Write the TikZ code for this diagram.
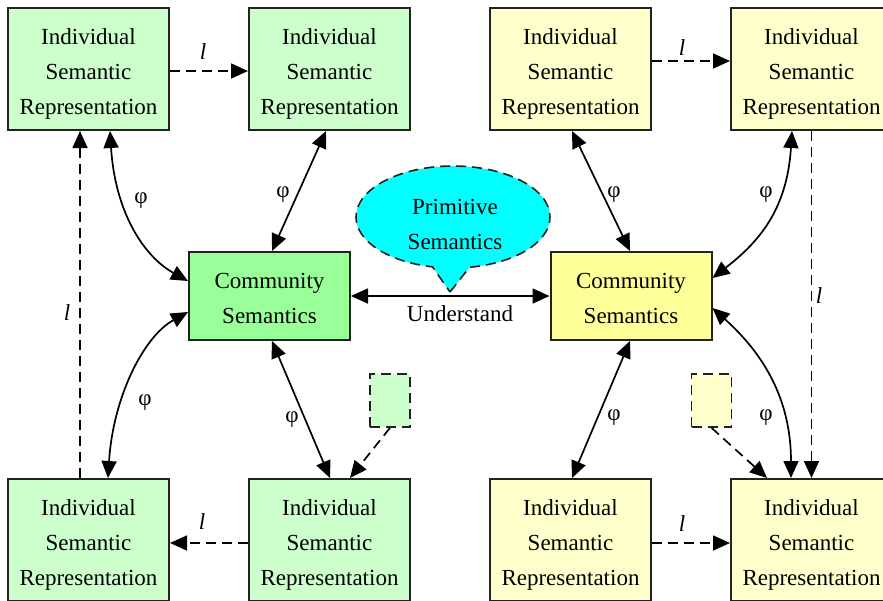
\documentclass[tikz,border=0pt]{standalone}
\usepackage{fontspec}
\setmainfont{Liberation Serif}
\newfontfamily\serifx{Liberation Serif}
\usetikzlibrary{arrows.meta,shapes.callouts,calc}
\definecolor{lgreen}{HTML}{CCFFCC}
\definecolor{cgreen}{HTML}{99FF99}
\definecolor{lyellow}{HTML}{FFFFCC}
\definecolor{cyellow}{HTML}{FFFF99}
\definecolor{cyanx}{HTML}{00FFFF}
\definecolor{bord}{HTML}{222222}
\begin{document}
\begin{tikzpicture}[x=1pt,y=-1pt,
  every node/.style={font=\serifx\fontsize{23}{35}\selectfont},
  box/.style={draw=bord, line width=2pt, minimum width=161pt, minimum height=122pt, inner sep=0pt, align=center, text width=161pt, text height=25pt},
  comm/.style={box, minimum height=88pt, text height=21pt},
  dsh/.style={dash pattern=on 10pt off 6pt},
  smallbox/.style={draw=bord, dsh, line width=1.6pt, minimum width=40pt, minimum height=53pt, inner sep=0pt},
  tip/.tip={Triangle[length=17pt,width=15pt]},
  conn/.style={line width=1.7pt, -tip},
  biconn/.style={line width=1.7pt, tip-tip},
  lab/.style={inner sep=0pt},
]
\clip (0,0) rectangle (883,600);
% green boxes
\node[box, fill=lgreen] (gtl) at (88.5,69) {Individual\\Semantic\\Representation};
\node[box, fill=lgreen] (gtr) at (329.5,69) {Individual\\Semantic\\Representation};
\node[box, fill=lgreen] (gbl) at (88.5,540) {Individual\\Semantic\\Representation};
\node[box, fill=lgreen] (gbr) at (329.5,540) {Individual\\Semantic\\Representation};
\node[comm, fill=cgreen] (gc) at (269.5,296) {Community\\Semantics};
\node[smallbox, fill=lgreen] (gsm) at (390,400.5) {};
% yellow boxes
\node[box, fill=lyellow] (ytl) at (570.5,69) {Individual\\Semantic\\Representation};
\node[box, fill=lyellow] (ytr) at (811.5,69) {Individual\\Semantic\\Representation};
\node[box, fill=lyellow] (ybl) at (570.5,540) {Individual\\Semantic\\Representation};
\node[box, fill=lyellow] (ybr) at (811.5,540) {Individual\\Semantic\\Representation};
\node[comm, fill=cyellow] (yc) at (631,296) {Community\\Semantics};
\node[smallbox, fill=lyellow] (ysm) at (711.5,400.5) {};
% callout
\node[ellipse callout, draw=bord, dsh, line width=1.6pt, fill=cyanx, minimum width=194pt, minimum height=102pt, inner sep=0pt, callout absolute pointer={(450,292)}, callout pointer arc=22] (prim) at (453,217) {};
\node[lab, align=center] (primtext) at (455,224) {Primitive\\Semantics};
% understand
\draw[biconn] (gc.east) -- (yc.west);
\node[lab] (und) at (460,314) {Understand};
% green connectors
\draw[conn, dsh] ($(gtl.east)+(0,2)$) -- ($(gtr.west)+(0,2)$);
\node[lab] (l1) at (203,52) {\itshape l};
\draw[conn, dsh] ($(gbl.north)+(-8.5,0)$) -- ($(gtl.south)+(-8.5,0)$);
\node[lab] (l2) at (67,313) {\itshape l};
\draw[conn, dsh] ($(gbr.west)+(0,3)$) -- ($(gbl.east)+(0,3)$);
\node[lab] (l3) at (202,522) {\itshape l};
\draw[biconn] ($(gtl.south)+(21.5,0)$) .. controls +(5,80) and +(-45,-25) .. ($(gc.west)+(0,-15)$);
\node[lab] (p1) at (141,201) {φ};
\draw[biconn] ($(gtr.south)+(-3.5,0)$) -- ($(gc.north)+(2.5,0)$);
\node[lab] (p2) at (283,195) {φ};
\draw[biconn] ($(gc.west)+(0,16)$) .. controls +(-45,25) and +(5,-80) .. ($(gbl.north)+(19.5,0)$);
\node[lab] (p3) at (145,403) {φ};
\draw[biconn] ($(gc.south)+(2.5,0)$) -- ($(gbr.north)+(0.5,0)$);
\node[lab] (p4) at (292,420) {φ};
\draw[conn, dsh] (gsm.south) -- ($(gbr.north)+(20.5,0)$);
% yellow connectors
\draw[conn, dsh] ($(ytl.east)+(0,-8)$) -- ($(ytr.west)+(0,-8)$);
\node[lab] (l4) at (682,48) {\itshape l};
\draw[conn, dsh] (ytr.south) -- (ybr.north);
\node[lab] (l5) at (819,296) {\itshape l};
\draw[conn, dsh] ($(ybl.east)+(0,3)$) -- ($(ybr.west)+(0,3)$);
\node[lab] (l6) at (682,524) {\itshape l};
\draw[biconn] ($(ytl.south)+(1.5,0)$) -- ($(yc.north)+(-1,0)$);
\node[lab] (p5) at (614,195) {φ};
\draw[biconn] ($(ytr.south)+(-19.5,0)$) .. controls +(-5,80) and +(45,-35) .. ($(yc.east)+(0,-18)$);
\node[lab] (p6) at (766,195) {φ};
\draw[biconn] ($(yc.east)+(0,12)$) .. controls +(50,45) and +(0,-80) .. ($(ybr.north)+(-20.5,0)$);
\node[lab] (p7) at (766,418) {φ};
\draw[biconn] ($(yc.south)+(-1,0)$) -- ($(ybl.north)+(1.5,0)$);
\node[lab] (p8) at (614,418) {φ};
\draw[conn, dsh] (ysm.south) -- ($(ybr.north)+(-44.5,0)$);
\end{tikzpicture}
\end{document}
